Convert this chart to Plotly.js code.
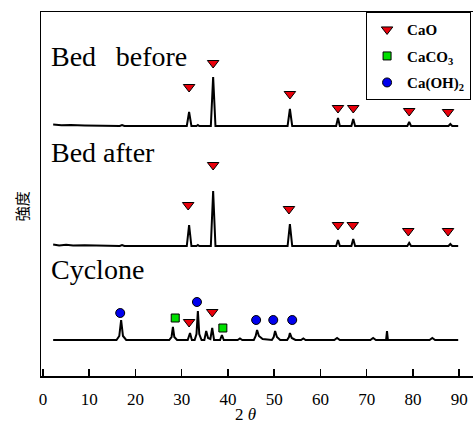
<!DOCTYPE html>
<html>
<head>
<meta charset="utf-8">
<script src="https://cdn.plot.ly/plotly-3.0.1.min.js"></script>
<style>html,body{margin:0;padding:0;background:#fff;}#chart{width:473px;height:424px;}</style>
</head>
<body>
<div id="chart"></div>
<script>
// ---- 2θ tick labels ----
const tickValues = [0, 10, 20, 30, 40, 50, 60, 70, 80, 90];
const tickLabels = ['0', '10', '20', '30', '40', '50', '60', '70', '80', '90'];

// ---- pattern names ----
const patternNames = ['Bed\u00A0\u00A0\u2009before', 'Bed after', 'Cyclone'];
// vertical stacking offsets (arbitrary intensity units)
const patternOffsets = [250, 130, 36];

// ---- Bed before (relative intensity) ----
const bedBeforeX = [2.2, 4.0, 6.0, 9.0, 16.6, 17.1, 17.6, 31.1, 31.6, 32.1, 33.2, 33.5, 33.8, 36.3, 36.8, 37.3, 52.9, 53.4, 53.9, 63.4, 63.8, 64.2, 66.7, 67.1, 67.5, 78.8, 79.2, 79.6, 87.7, 88.1, 88.5, 89.8];
const bedBeforeY = [1.5, 0.8, 1.0, 0.5, 0, 1, 0, 0, 14, 0, 0, 1, 0, 0, 49, 0, 0, 17, 0, 0, 8, 0, 0, 7, 0, 0, 4, 0, 0, 2, 0, 0];

// ---- Bed after (relative intensity) ----
const bedAfterX = [2.2, 3.5, 5.0, 6.5, 9.0, 16.6, 17.1, 17.6, 31.1, 31.6, 32.1, 33.2, 33.5, 33.8, 36.3, 36.8, 37.3, 52.9, 53.4, 53.9, 63.4, 63.8, 64.2, 66.7, 67.1, 67.5, 78.8, 79.2, 79.6, 87.7, 88.1, 88.5, 89.8];
const bedAfterY = [1.5, 0.5, 1.2, 0.4, 0.8, 0, 1, 0, 0, 21, 0, 0, 1, 0, 0, 55, 0, 0, 22, 0, 0, 6, 0, 0, 7, 0, 0, 3, 0, 0, 2, 0, 0];

// ---- Cyclone (relative intensity) ----
const cycloneX = [2.2, 15.9, 16.5, 16.9, 17.3, 18.0, 27.3, 27.8, 28.1, 28.4, 29.0, 31.3, 31.8, 32.2, 32.8, 33.2, 33.5, 33.8, 34.3, 34.9, 35.3, 35.7, 36.2, 36.6, 37.0, 38.3, 38.7, 39.1, 42.1, 42.6, 43.1, 45.6, 46.0, 46.3, 46.7, 47.5, 49.5, 49.9, 50.2, 50.6, 51.3, 52.8, 53.2, 53.4, 53.8, 54.6, 55.8, 56.3, 56.8, 63.0, 63.6, 64.2, 70.8, 71.4, 72.0, 74.2, 74.4, 74.6, 83.6, 84.2, 84.8, 89.8];
const cycloneY = [0, 0, 4, 20, 4, 0, 0, 3, 13, 3, 0, 0, 7, 0, 0, 6, 29, 6, 0, 0, 9, 2, 1, 12, 0, 0, 5, 0, 0, 1.5, 0, 0, 4, 10, 4, 1, 0, 3, 9, 3, 0, 0, 3, 7, 2, 0, 0, 1.5, 0, 0, 2, 0, 0, 2, 0, 0, 9, 0, 0, 2, 0, 0];

// ---- phase markers (x = 2θ, y = height above each pattern's baseline) ----
const caoBedBeforeX = [31.6, 36.8, 53.4, 63.8, 67.1, 79.2, 87.6];
const caoBedBeforeY = [39, 63, 32, 18, 18, 15, 14];
const caoBedAfterX = [31.4, 36.8, 53.2, 63.8, 67.0, 79.0, 87.6];
const caoBedAfterY = [41, 81, 37, 21, 21, 15, 15];
const caoCycloneX = [31.6, 36.6];
const caoCycloneY = [18, 28];
const caco3CycloneX = [28.6, 38.9];
const caco3CycloneY = [22, 12];
const caoh2CycloneX = [16.7, 33.3, 46.1, 49.8, 53.9];
const caoh2CycloneY = [27, 38, 20, 20, 20];

const serif = 'Liberation Serif';

function shift(arr, off) { return arr.map(v => v + off); }

const lineStyle = {color: '#000', width: 2};
const traces = [
  {x: bedBeforeX, y: shift(bedBeforeY, patternOffsets[0]), mode: 'lines', line: lineStyle, showlegend: false, hoverinfo: 'skip'},
  {x: bedAfterX, y: shift(bedAfterY, patternOffsets[1]), mode: 'lines', line: lineStyle, showlegend: false, hoverinfo: 'skip'},
  {x: cycloneX, y: shift(cycloneY, patternOffsets[2]), mode: 'lines', line: lineStyle, showlegend: false, hoverinfo: 'skip'},
  {
    name: '<b>CaO</b>', mode: 'markers',
    x: caoBedBeforeX.concat(caoBedAfterX, caoCycloneX),
    y: shift(caoBedBeforeY, patternOffsets[0]).concat(shift(caoBedAfterY, patternOffsets[1]), shift(caoCycloneY, patternOffsets[2])),
    marker: {symbol: 'triangle-down', size: 10, color: '#e8000b', line: {color: '#000', width: 1}},
    legendgroup: 'a'
  },
  {
    name: '<b>CaCO<sub>3</sub></b>', mode: 'markers',
    x: caco3CycloneX, y: shift(caco3CycloneY, patternOffsets[2]),
    marker: {symbol: 'square', size: 8, color: '#00e000', line: {color: '#000', width: 1}},
    legendgroup: 'b'
  },
  {
    name: '<b>Ca(OH)<sub>2</sub></b>', mode: 'markers',
    x: caoh2CycloneX, y: shift(caoh2CycloneY, patternOffsets[2]),
    marker: {symbol: 'circle', size: 9, color: '#0000ee', line: {color: '#000', width: 1}},
    legendgroup: 'c'
  }
];

const labelY = [320, 224, 107];
const annotations = patternNames.map((t, i) => ({
  text: t, xref: 'paper', yref: 'y', x: 0.019, y: labelY[i],
  xanchor: 'left', yanchor: 'middle', showarrow: false,
  font: {family: serif, size: 28, color: '#000'}
}));
annotations.push({
  text: '2 <i>θ</i>', xref: 'paper', yref: 'paper', x: 0.4745, y: -0.105,
  xanchor: 'center', yanchor: 'middle', showarrow: false,
  font: {family: serif, size: 17, color: '#000'}
});
annotations.push({
  text: '強度', xref: 'paper', yref: 'paper', x: -0.046, y: 0.467,
  xanchor: 'center', yanchor: 'middle', textangle: -90, showarrow: false,
  font: {family: 'Noto Sans CJK JP', size: 15, color: '#000'}
});

const layout = {
  width: 473, height: 424,
  margin: {l: 41, r: 0, t: 12, b: 48, pad: 0},
  paper_bgcolor: '#fff', plot_bgcolor: '#fff',
  font: {family: serif, color: '#000'},
  showlegend: true,
  legend: {
    x: 0.752, y: 1, xanchor: 'left', yanchor: 'top',
    bgcolor: '#fff', bordercolor: '#000', borderwidth: 1.2,
    font: {family: serif, size: 15, color: '#000'},
    tracegroupgap: 4, itemwidth: 30
  },
  xaxis: {
    range: [-0.43, 93.0], tickvals: tickValues, ticktext: tickLabels,
    ticks: 'inside', ticklen: 7, tickwidth: 1.5, tickcolor: '#000',
    showline: true, linecolor: '#000', linewidth: 1.5, mirror: true,
    showgrid: false, zeroline: false, ticklabelstandoff: 7,
    tickfont: {family: serif, size: 17, color: '#000'}
  },
  yaxis: {
    range: [0, 364], showticklabels: false, ticks: '',
    showline: true, linecolor: '#000', linewidth: 1.5,
    showgrid: false, zeroline: false
  },
  annotations: annotations
};

Plotly.newPlot('chart', traces, layout, {displayModeBar: false, staticPlot: true});
</script>
</body>
</html>
